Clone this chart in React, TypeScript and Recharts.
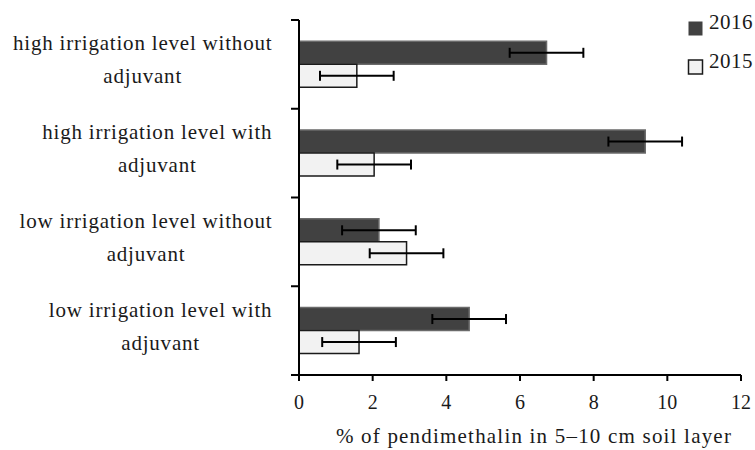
import React from "react"
import { Bar, BarChart, ErrorBar, XAxis, YAxis } from "recharts"

// treatments, top to bottom
const categories = [
  "high irrigation level without|adjuvant",
  "high irrigation level with|adjuvant",
  "low irrigation level without|adjuvant",
  "low irrigation level with|adjuvant",
]
const values2016 = [6.72, 9.4, 2.17, 4.62]
const errors2016 = [1.0, 1.0, 1.0, 1.0]
const values2015 = [1.57, 2.04, 2.92, 1.63]
const errors2015 = [1.0, 1.0, 1.0, 1.0]
const xTicks = [0, 2, 4, 6, 8, 10, 12]
const xLabel = "% of pendimethalin in 5\u201310 cm soil layer"

const series = [
  { key: "y2016", err: "e2016", name: "2016", fill: "#414141", stroke: "#6a6a6a" },
  { key: "y2015", err: "e2015", name: "2015", fill: "#f2f2f2", stroke: "#1a1a1a" },
]

const data = categories.map((c, i) => ({
  name: c,
  y2016: values2016[i],
  e2016: errors2016[i],
  y2015: values2015[i],
  e2015: errors2015[i],
}))

const FONT = '"Liberation Serif", "Times New Roman", serif'
const FS = 21
const LS = 0.8
const W = 755
const H = 450
const TOP = 20
const PLOT_LEFT = 299
const RIGHT = 14
const X_AXIS_H = 75
const BAND = (H - TOP - X_AXIS_H) / categories.length

let ctx: CanvasRenderingContext2D | null = null
const measure = (s: string) => {
  if (!ctx) ctx = document.createElement("canvas").getContext("2d")
  if (!ctx) return s.length * 9
  ctx.font = `${FS}px ${FONT}`
  return ctx.measureText(s).width + LS * (s.length - 1)
}

const CategoryTick = (props: any) => {
  const { y, payload, index } = props
  const lines = String(payload.value).split("|")
  const w = measure(lines[0])
  const cx = 272 - w / 2
  const top = y - BAND / 2
  return (
    <g>
      <line x1={PLOT_LEFT - 8} x2={PLOT_LEFT} y1={top} y2={top} stroke="#000" strokeWidth={2} />
      {index === categories.length - 1 && (
        <line x1={PLOT_LEFT - 8} x2={PLOT_LEFT} y1={top + BAND} y2={top + BAND} stroke="#000" strokeWidth={2} />
      )}
      <text x={cx} y={y - 14} textAnchor="middle" fontFamily={FONT} fontSize={FS} letterSpacing={LS} fill="#1a1a1a">
        {lines[0]}
      </text>
      <text x={cx} y={y + 19} textAnchor="middle" fontFamily={FONT} fontSize={FS} letterSpacing={LS} fill="#1a1a1a">
        {lines[1]}
      </text>
    </g>
  )
}

export default function App() {
  return (
    <div style={{ position: "absolute", left: 0, top: 0, width: W, height: H, background: "#fff" }}>
      <BarChart
        width={W}
        height={H}
        data={data}
        layout="vertical"
        margin={{ top: TOP, right: RIGHT, bottom: 0, left: 0 }}
        barCategoryGap="24%"
        barGap={0}
      >
        <XAxis
          type="number"
          domain={[0, 12]}
          ticks={xTicks}
          height={X_AXIS_H}
          stroke="#000"
          axisLine={{ stroke: "#000", strokeWidth: 2 }}
          tickLine={{ stroke: "#000", strokeWidth: 2 }}
          tickSize={6}
          tick={{ fill: "#1a1a1a", fontSize: 20, fontFamily: FONT, dy: 12 }}
          label={{
            value: xLabel,
            position: "insideBottom",
            offset: 7,
            dx: 14,
            fill: "#1a1a1a",
            fontSize: FS,
            fontFamily: FONT,
            letterSpacing: 1.2,
          }}
        />
        <YAxis
          type="category"
          dataKey="name"
          width={PLOT_LEFT}
          axisLine={{ stroke: "#000", strokeWidth: 2 }}
          tickLine={false}
          tick={<CategoryTick />}
          interval={0}
        />
        {series.map((s) => (
          <Bar
            key={s.key}
            dataKey={s.key}
            name={s.name}
            fill={s.fill}
            stroke={s.stroke}
            strokeWidth={1.5}
            isAnimationActive={false}
          >
            <ErrorBar dataKey={s.err} direction="x" width={5} stroke="#000" strokeWidth={2} isAnimationActive={false} />
          </Bar>
        ))}
      </BarChart>
      <svg width={W} height={H} style={{ position: "absolute", left: 0, top: 0, pointerEvents: "none" }}>
        {series.map((s, i) => (
          <g key={s.key}>
            <rect
              x={688.5}
              y={21.5 + 38.5 * i}
              width={14}
              height={14}
              fill={s.fill}
              stroke={i === 0 ? "none" : "#1a1a1a"}
              strokeWidth={1.5}
            />
            <text x={709} y={29 + 39 * i} fontFamily={FONT} fontSize={FS} letterSpacing={0.5} fill="#1a1a1a">
              {s.name}
            </text>
          </g>
        ))}
      </svg>
    </div>
  )
}
